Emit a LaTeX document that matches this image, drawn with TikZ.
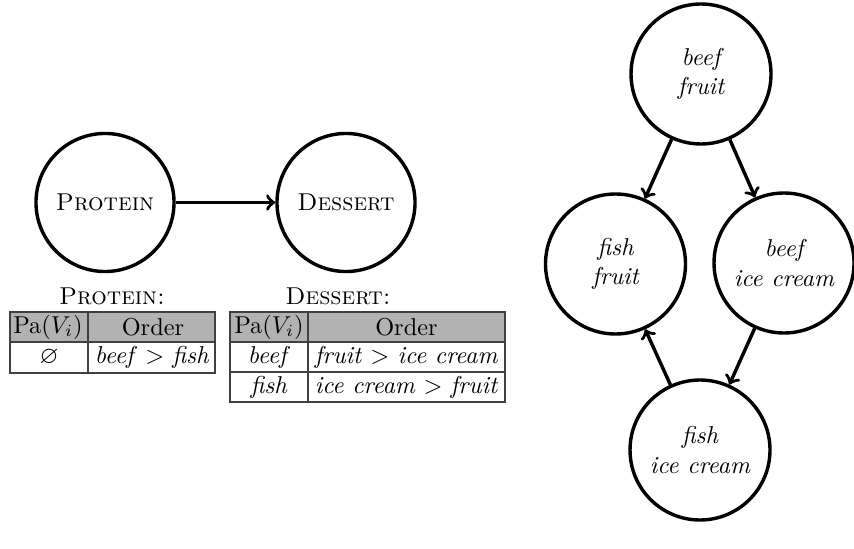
\documentclass[tikz,border=0pt]{standalone}
\usepackage{amssymb}
\begin{document}
\begin{tikzpicture}[x=0.41pt,y=-0.41pt,
  var/.style={circle,draw,line width=1.4pt,minimum size=56.6pt,inner sep=0pt},
  state/.style={circle,draw,line width=1.4pt,minimum size=57.4pt,inner sep=0pt,align=center,font=\itshape},
  edge/.style={->,line width=1.4pt},
  grid/.style={draw=black!75,line width=0.5pt},
  head/.style={fill=black!30}]
\useasboundingbox (0,0) rectangle (854,548);
% left graph
\node[var] (p) at (105,202.5) {\textsc{Protein}};
\node[var] (d) at (346,202.5) {\textsc{Dessert}};
\draw[edge] (p) -- (d);
% labels
\node (pl) at (112,296) {\textsc{Protein:}};
\node (dl) at (338,296) {\textsc{Dessert:}};
% protein table
\fill[head] (10,312) rectangle (215,342);
\draw[grid] (10,312) rectangle (215,373);
\draw[grid] (10,342) -- (215,342);
\draw[grid] (88,312) -- (88,373);
\node (p11) at (48,327) {Pa$(V_i)$};
\node (p12) at (153,327) {Order};
\node (p21) at (49,357.5) {$\varnothing$};
\node (p22) at (152,357.5) {\textit{beef} $>$ \textit{fish}};
% dessert table
\fill[head] (230,312) rectangle (505,342);
\draw[grid] (230,312) rectangle (505,402);
\draw[grid] (230,342) -- (505,342);
\draw[grid] (230,372) -- (505,372);
\draw[grid] (308,312) -- (308,402);
\node (d11) at (269,327) {Pa$(V_i)$};
\node (d12) at (406.5,327) {Order};
\node (d21) at (269,357) {\textit{beef}};
\node (d22) at (406.5,357) {\textit{fruit} $>$ \textit{ice cream}};
\node (d31) at (269,387) {\textit{fish}};
\node (d32) at (406.5,387) {\textit{ice cream} $>$ \textit{fruit}};
% right graph
\node[state] (bf) at (701,74) {beef\\fruit};
\node[state] (ff) at (615.5,264) {fish\\fruit};
\node[state] (bi) at (784,263) {beef\\ice cream};
\node[state] (fi) at (700,450) {fish\\ice cream};
\draw[edge] (bf) -- (ff);
\draw[edge] (bf) -- (bi);
\draw[edge] (bi) -- (fi);
\draw[edge] (fi) -- (ff);
\end{tikzpicture}
\end{document}
